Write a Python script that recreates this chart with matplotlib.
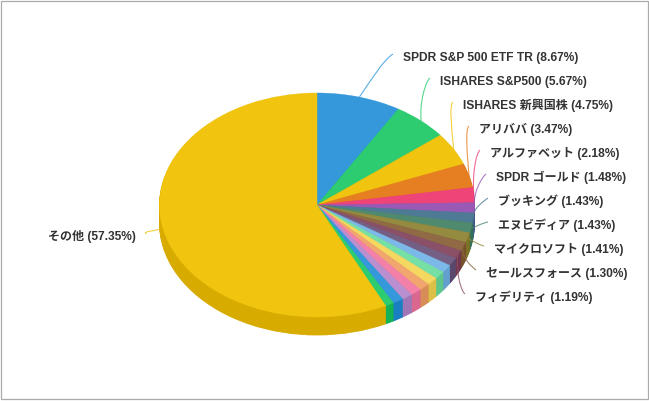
import numpy as np
import matplotlib
matplotlib.use("Agg")
import matplotlib.pyplot as plt
from matplotlib.colors import to_rgb
from matplotlib.patches import PathPatch, Rectangle
from matplotlib.path import Path
from matplotlib.transforms import Affine2D

names = ["SPDR S&P 500 ETF TR", "ISHARES S&P500", "ISHARES 新興国株", "アリババ", "アルファベット",
         "SPDR ゴールド", "ブッキング", "エヌビディア", "マイクロソフト", "セールスフォース", "フィデリティ",
         "", "", "", "", "", "", "", "", "", "その他"]
values = [8.67, 5.67, 4.75, 3.47, 2.18, 1.48, 1.43, 1.43, 1.41, 1.30, 1.19,
          1.18, 1.16, 1.15, 1.14, 1.13, 1.12, 1.11, 1.10, 0.88, 57.35]
colors = ["#3498db", "#2ecc71", "#f1c40f", "#e67e22", "#ee4478", "#9b59b6",
          "#4f7a96", "#4f8a6e", "#948a40", "#8f6a45", "#8a5068", "#756085",
          "#7cb8e8", "#76dfa5", "#f5d85f", "#f0a66e", "#f280a8", "#b98fd0",
          "#3498db", "#2ecc71", "#f1c40f"]
# label left edge (right edge for the last one) and centre line, in pixels from top left
label_pos = [(403, 57), (440, 81), (463, 105), (479, 129), (490, 153), (496, 177),
             (498, 201), (498, 225), (494, 249), (486, 273), (475, 297)]
other_pos = (136, 236)

W, H = 649, 401
CX, CY = 317, 205
RX, RY = 157.5, 112
DEPTH = 18

plt.rcParams["font.family"] = ["Liberation Sans", "Noto Sans CJK JP"]


def darker(c):
    return tuple(max(v - 0.1, 0) for v in to_rgb(c))


def connector(ax, start, end, color):
    sx, sy = start
    ex, ey = end
    hook = 3 if ey < sy else -3
    if abs(ex - sx) > 15:
        verts = [(sx, sy), (sx + (ex - sx) * 0.35, sy + (ey - sy) * 0.4),
                 (ex - (ex - sx) * 0.3, ey + (sy - ey) * 0.15), (ex, ey)]
    else:
        verts = [(sx, sy), (sx - 2, sy + (ey - sy) * 0.45), (ex - 4, ey + hook), (ex, ey)]
    codes = [Path.MOVETO, Path.CURVE4, Path.CURVE4, Path.CURVE4]
    ax.add_patch(PathPatch(Path([(x, H - y) for x, y in verts], codes), fc="none", ec=color,
                           lw=0.8, alpha=0.8, zorder=50))


fig = plt.figure(figsize=(W / 100, H / 100), dpi=100, facecolor="white")
ax = fig.add_axes([0, 0, 1, 1])

# stack of squashed pies for the side wall, top one last
for d in range(DEPTH, -1, -1):
    cols = colors if d == 0 else [darker(c) for c in colors]
    wedges, _ = ax.pie(values, colors=cols, startangle=90, counterclock=False, radius=RX, normalize=True)
    tr = Affine2D().scale(1, RY / RX).translate(CX, H - CY - d) + ax.transData
    for w in wedges:
        w.set_transform(tr)
        w.set_linewidth(0.3 if d == 0 else 0.6)
        w.set_edgecolor(w.get_facecolor())
        w.set_zorder(DEPTH - d + 1)

ax.set_aspect("auto")
ax.set_xlim(0, W)
ax.set_ylim(0, H)
ax.axis("off")

angles = np.radians((np.cumsum(values) - np.array(values) / 2) * 3.6)
anchor = [(CX + RX * np.sin(a), CY - RY * np.cos(a)) for a in angles]

for i, (lx, ly) in enumerate(label_pos):
    connector(ax, anchor[i], (lx - 10, ly - 3), colors[i])
    ax.text(lx, H - ly - 0.5, f"{names[i]} ({values[i]:.2f}%)", fontsize=8.64, fontweight="bold",
            color="#333333", ha="left", va="center", zorder=60)

connector(ax, (160, anchor[-1][1]), (other_pos[0] + 10, other_pos[1] - 2), colors[-1])
ax.text(other_pos[0], H - other_pos[1] - 0.5, f"{names[-1]} ({values[-1]:.2f}%)", fontsize=8.64, fontweight="bold",
        color="#333333", ha="right", va="center", zorder=60)

# chart frame, stops short of the right and bottom edges
fig.add_artist(Rectangle((0.5 / W, 2.5 / H), 647 / W, 398 / H, transform=fig.transFigure,
                         fc="none", ec="#aaaaaa", lw=0.9))

fig.savefig("out.png", dpi=100, facecolor="white")
